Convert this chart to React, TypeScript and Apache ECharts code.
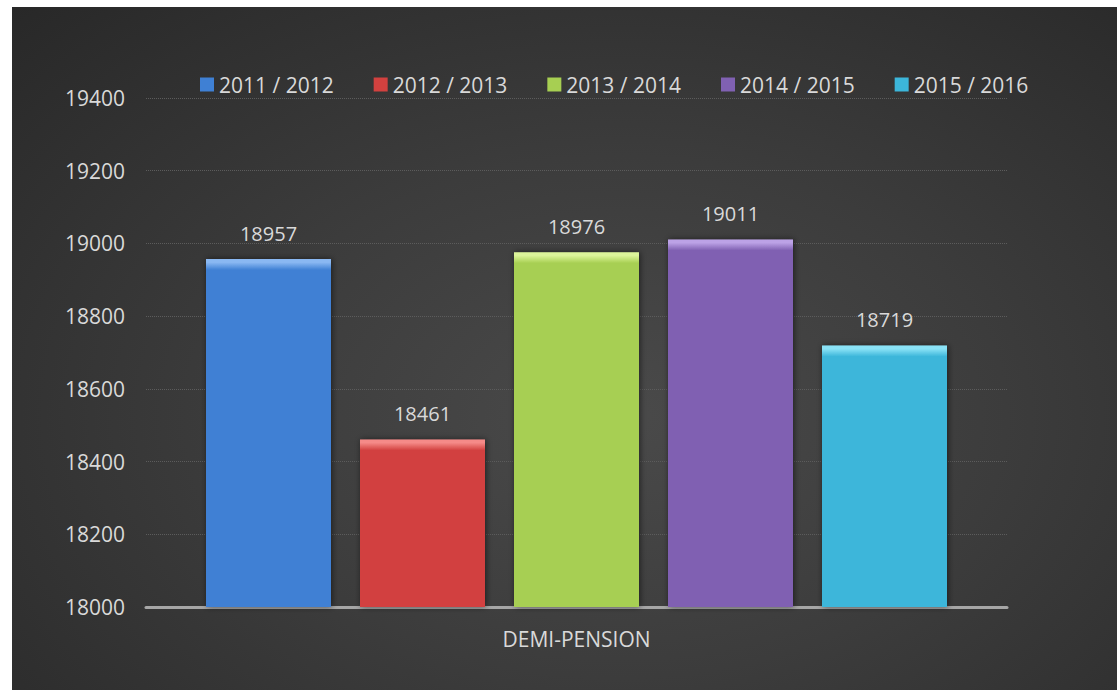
import React, { useEffect, useRef } from "react";
import * as echarts from "echarts";

const categories = ["DEMI-PENSION"];
const seriesNames = ["2011 / 2012", "2012 / 2013", "2013 / 2014", "2014 / 2015", "2015 / 2016"];
const seriesValues = [18957, 18461, 18976, 19011, 18719];
const seriesColors = ["#3f80d4", "#d2413f", "#a7cf52", "#8061b2", "#3cb6da"];
const lightColors = ["#8ab8f2", "#f58a88", "#dcf49a", "#bca2e6", "#8ae2f6"];
const yMin = 18000;
const yMax = 19400;
const yInterval = 200;

const FONT = "'Open Sans', sans-serif";

export default function App() {
  const ref = useRef<HTMLDivElement>(null);
  useEffect(() => {
    document.body.style.margin = "0";
    const chart = echarts.init(ref.current!, null, { renderer: "svg" });
    const plotH = 509;
    const series = seriesNames.map((name, i) => {
      const hPx = ((seriesValues[i] - yMin) / (yMax - yMin)) * plotH;
      const f = Math.min(0.5, 11 / hPx);
      return {
        name,
        type: "bar",
        data: [seriesValues[i]],
        barWidth: 125,
        barGap: "23.2%",
        itemStyle: {
          color: {
            type: "linear",
            x: 0,
            y: 0,
            x2: 0,
            y2: 1,
            colorStops: [
              { offset: 0, color: lightColors[i] },
              { offset: f * 0.3, color: lightColors[i] },
              { offset: f, color: seriesColors[i] },
              { offset: 1, color: seriesColors[i] },
            ],
          },
          shadowBlur: 6,
          shadowColor: "rgba(0,0,0,0.55)",
          shadowOffsetX: 1,
        },
        label: {
          show: true,
          position: "top",
          distance: 16,
          color: "#d9d9d9",
          fontSize: 20,
          fontFamily: FONT,
        },
      };
    });
    chart.setOption({
      animation: false,
      backgroundColor: "transparent",
      textStyle: { fontFamily: FONT },
      legend: {
        data: seriesNames.map((n, i) => ({
          name: n,
          itemStyle: { color: seriesColors[i] },
        })),
        left: 183,
        top: 62,
        icon: "rect",
        itemWidth: 14,
        itemHeight: 14,
        itemGap: 40,
        textStyle: { color: "#d9d9d9", fontSize: 21, fontFamily: FONT },
      },
      grid: { left: 134, right: 110, top: 91, bottom: 83 },
      xAxis: {
        type: "category",
        data: categories,
        axisLine: { lineStyle: { color: "#a6a6a6", width: 3 } },
        axisTick: { show: false },
        axisLabel: { color: "#d9d9d9", fontSize: 21, margin: 21, fontFamily: FONT },
      },
      yAxis: {
        type: "value",
        min: yMin,
        max: yMax,
        interval: yInterval,
        axisLine: { show: false },
        axisTick: { show: false },
        axisLabel: {
          color: "#d9d9d9",
          fontSize: 21,
          margin: 21,
          fontFamily: FONT,
          formatter: (v: number) => String(v),
        },
        splitLine: { lineStyle: { color: "#5c5c5c", type: "dotted", width: 1 } },
      },
      series,
    });
    return () => chart.dispose();
  }, []);
  return (
    <div
      style={{
        position: "absolute",
        left: 12,
        top: 7,
        width: 1105,
        height: 683,
        background:
          "radial-gradient(ellipse at 55% 60%, #4a4a4a 0%, #3c3c3c 45%, #282828 100%)",
      }}
    >
      <div ref={ref} style={{ width: 1105, height: 683 }} />
    </div>
  );
}
